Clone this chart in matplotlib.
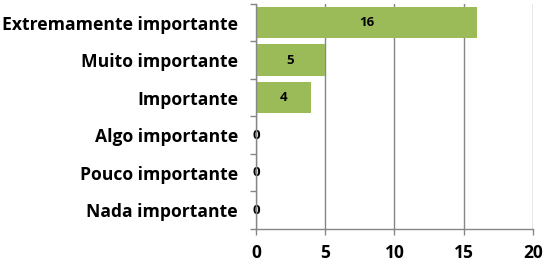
import numpy as np
import matplotlib as mpl
mpl.use('Agg')
import matplotlib.pyplot as plt

categories = ['Extremamente importante', 'Muito importante', 'Importante',
              'Algo importante', 'Pouco importante', 'Nada importante']
counts = [16, 5, 4, 0, 0, 0]
xticks = [0, 5, 10, 15, 20]

plt.rcParams['font.family'] = ['Open Sans', 'DejaVu Sans']
plt.rcParams['font.weight'] = 'bold'

green = '#9BBB59'
axis_gray = '#868686'

fig = plt.figure(figsize=(5.51, 2.65), dpi=100)
ax = fig.add_axes([0.4646, 0.136, 0.967 - 0.4646, 0.985 - 0.136])

y = np.arange(len(categories))
bars = ax.barh(y, counts, height=0.84, color=green, zorder=3)
for yi, v in zip(y, counts):
    ax.text(v / 2, yi, str(v), ha='center', va='center',
            fontsize=9.5, fontweight='bold', color='black', zorder=4)

ax.set_ylim(len(categories) - 0.5, -0.5)
ax.set_xlim(0, 20)
ax.set_xticks(xticks)
ax.set_xticklabels([str(t) for t in xticks], fontsize=12.5, fontweight='bold')
ax.set_yticks(y)
ax.set_yticklabels(categories, fontsize=12.6, fontweight='bold')
ax.set_yticks(np.arange(len(categories) + 1) - 0.5, minor=True)

ax.tick_params(axis='y', which='major', length=0, pad=13)
ax.tick_params(axis='y', which='minor', length=4, color=axis_gray, width=1)
ax.tick_params(axis='x', length=4, color=axis_gray, width=1, pad=6.5)

ax.grid(axis='x', color=axis_gray, linewidth=1, zorder=0)
for side in ['top', 'right']:
    ax.spines[side].set_visible(False)
for side in ['left', 'bottom']:
    ax.spines[side].set_color(axis_gray)
    ax.spines[side].set_linewidth(1)
ax.spines['left'].set_zorder(5)

fig.savefig('out.png', dpi=100)
